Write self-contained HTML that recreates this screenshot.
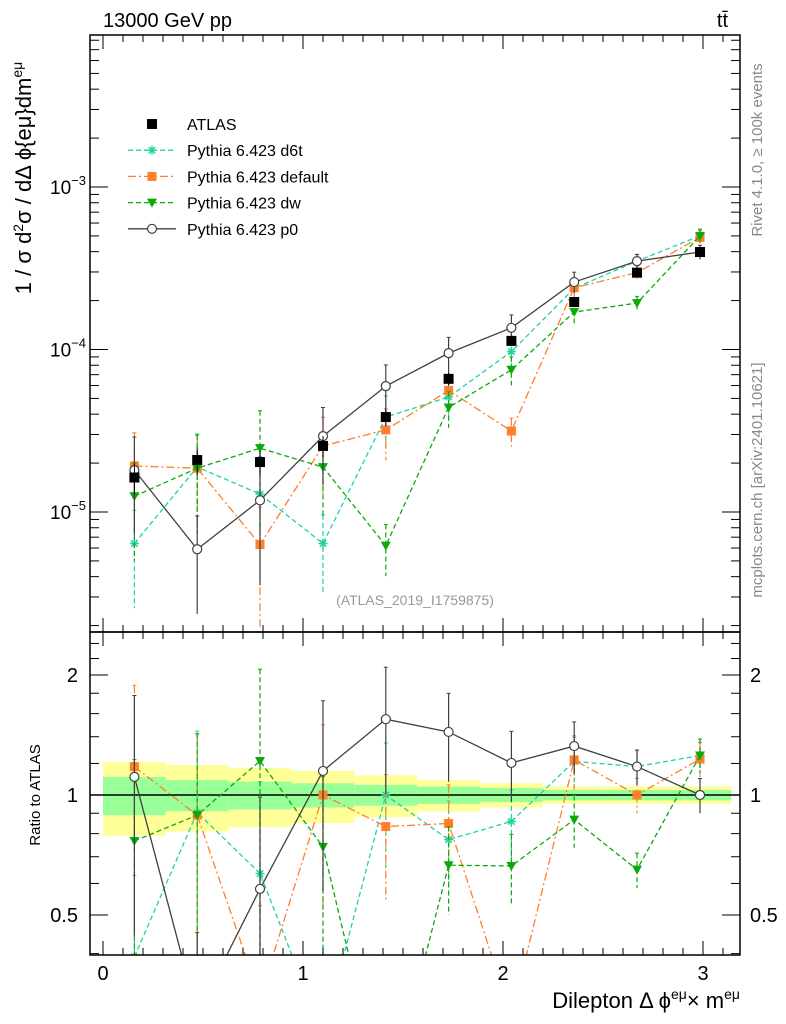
<!DOCTYPE html>
<html><head><meta charset="utf-8"><style>
html,body{margin:0;padding:0;background:#fff;overflow:hidden;width:786px;height:1024px}
svg{display:block}
svg text{font-family:"Liberation Sans","DejaVu Sans",sans-serif}
</style></head><body>
<svg id="c" width="786" height="1024" xmlns="http://www.w3.org/2000/svg"></svg>
<script>
const xs=[0.157,0.471,0.785,1.100,1.414,1.728,2.042,2.356,2.670,2.985];
const atlas=[1.63e-5,2.09e-5,2.03e-5,2.55e-5,3.84e-5,6.6e-5,1.13e-4,1.96e-4,2.97e-4,3.98e-4];
const d6t=[6.4e-6,1.89e-5,1.29e-5,6.4e-6,3.84e-5,5.1e-5,9.7e-5,2.38e-4,3.5e-4,5.0e-4];
const dflt=[1.92e-5,1.86e-5,6.3e-6,2.55e-5,3.2e-5,5.6e-5,3.15e-5,2.4e-4,2.97e-4,4.9e-4];
const dw=[1.25e-5,1.86e-5,2.47e-5,1.89e-5,6.2e-6,4.4e-5,7.5e-5,1.7e-4,1.93e-4,5.0e-4];
const p0=[1.81e-5,5.9e-6,1.18e-5,2.93e-5,5.95e-5,9.5e-5,1.36e-4,2.6e-4,3.5e-4,3.98e-4];
const mcErr=[0.6,0.6,0.7,0.5,0.35,0.25,0.2,0.15,0.1,0.1];
const yellowErr=[0.21,0.19,0.17,0.15,0.12,0.09,0.07,0.05,0.05,0.05];
const greenErr=[0.11,0.09,0.08,0.07,0.06,0.05,0.04,0.03,0.03,0.03];
const xTicks=[0,1,2,3];
const mainTicks=[-5,-4,-3];
const ratioTicks=[0.5,1,2];

const svg=document.getElementById('c');
const NS='http://www.w3.org/2000/svg';
const L=90,R=740,T=35,MB=632,RB=955;
const X=v=>103+v*200;
const Y=v=>512-(Math.log10(v)+5)*162.5;
const YR=v=>795-Math.log2(v)*120;
function el(tag,a,parent){const e=document.createElementNS(NS,tag);for(const k in a)e.setAttribute(k,a[k]);(parent||svg).appendChild(e);return e;}

const defs=el('defs',{});
const c1=el('clipPath',{id:'cm'},defs);el('rect',{x:L,y:T,width:R-L,height:MB-T},c1);
const c2=el('clipPath',{id:'cr'},defs);el('rect',{x:L,y:MB,width:R-L,height:RB-MB},c2);
const gm=el('g',{'clip-path':'url(#cm)'});


const gr=el('g',{'clip-path':'url(#cr)'});



const bw=Math.PI/10;
for(let i=0;i<xs.length;i++){
  const x0=X(i*bw),x1=X((i+1)*bw);
  const y=el('rect',{x:x0,y:YR(1+yellowErr[i]),width:x1-x0,height:YR(1-yellowErr[i])-YR(1+yellowErr[i]),fill:'#ffff99'},gr);
  
  
  const g=el('rect',{x:x0,y:YR(1+greenErr[i]),width:x1-x0,height:YR(1-greenErr[i])-YR(1+greenErr[i]),fill:'#99ff99'},gr);
  
  
}
el('line',{x1:L,x2:R,y1:YR(1),y2:YR(1),stroke:'#000','stroke-width':1.5},gr);

function marker(g,type,x,y,col){
  if(type==='sq')el('rect',{x:x-5,y:y-5,width:10,height:10,fill:col},g);
  else if(type==='osq')el('rect',{x:x-4.5,y:y-4.5,width:9,height:9,fill:col},g);
  else if(type==='tri')el('path',{d:`M${x-5},${y-4}L${x+5},${y-4}L${x},${y+5}Z`,fill:col},g);
  else if(type==='circ')el('circle',{cx:x,cy:y,r:4.5,fill:'#fff',stroke:col,'stroke-width':1.2},g);
  else if(type==='star'){for(let a=0;a<4;a++){const t=a*Math.PI/4;el('line',{x1:x-4.5*Math.cos(t),y1:y-4.5*Math.sin(t),x2:x+4.5*Math.cos(t),y2:y+4.5*Math.sin(t),stroke:col,'stroke-width':1.5},g);}}
}
const series=[
 {name:'d6t',vals:d6t,col:'#1fd3a0',dash:'5,3',m:'star'},
 {name:'default',vals:dflt,col:'#ff7f2a',dash:'8,3,2,3',m:'osq'},
 {name:'dw',vals:dw,col:'#0aaa0a',dash:'5,3',m:'tri'},
 {name:'p0',vals:p0,col:'#404040',dash:'',m:'circ'}
];
series.forEach(s=>{
  [[gm,Y,s.vals],[gr,YR,s.vals.map((v,i)=>v/atlas[i])]].forEach(([par,fy,vals],k)=>{
    const g=el('g',{},par);
    
    
    vals.forEach((v,i)=>{
      const lo=Math.max(v*(1-mcErr[i]),1e-9);
      el('line',{x1:X(xs[i]),x2:X(xs[i]),y1:fy(v*(1+mcErr[i])),y2:fy(lo),stroke:s.col,'stroke-width':1.2,'stroke-dasharray':s.dash},g);
      el('line',{x1:X(xs[i])-2,x2:X(xs[i])+2,y1:fy(v*(1+mcErr[i])),y2:fy(v*(1+mcErr[i])),stroke:s.col},g);
    });
    el('polyline',{points:vals.map((v,i)=>X(xs[i])+','+fy(v)).join(' '),fill:'none',stroke:s.col,'stroke-width':1.3,'stroke-dasharray':s.dash},g);
    vals.forEach((v,i)=>marker(g,s.m,X(xs[i]),fy(v),s.col));
  });
});
const ga=el('g',{},gm);


atlas.forEach((v,i)=>{
  el('line',{x1:X(xs[i]),x2:X(xs[i]),y1:Y(v*(1+yellowErr[i])),y2:Y(v*(1-yellowErr[i])),stroke:'#000'},ga);
  marker(ga,'sq',X(xs[i]),Y(v),'#000');
});

el('rect',{x:L,y:T,width:R-L,height:MB-T,fill:'none',stroke:'#000','stroke-width':1.5});
el('rect',{x:L,y:MB,width:R-L,height:RB-MB,fill:'none',stroke:'#000','stroke-width':1.5});

for(let v=0;v<=3.2;v+=0.1){
  const big=Math.abs(v-Math.round(v))<1e-6, x=X(v);
  if(x>R)break;
  const h=big?14:7;
  [T,MB].forEach(y=>el('line',{x1:x,x2:x,y1:y,y2:y+h,stroke:'#000'}));
  [MB,RB].forEach(y=>el('line',{x1:x,x2:x,y1:y,y2:y-h,stroke:'#000'}));
}
xTicks.forEach(v=>{const t=el('text',{x:X(v),y:980,'font-size':20,'text-anchor':'middle'});t.textContent=v;
 });

for(let d=-6;d<=-2;d++)for(let m=1;m<10;m++){
  const v=m*Math.pow(10,d),y=Y(v);if(y<T||y>MB)continue;
  const h=m===1?18:9;
  el('line',{x1:L,x2:L+h,y1:y,y2:y,stroke:'#000'});el('line',{x1:R,x2:R-h,y1:y,y2:y,stroke:'#000'});
}
mainTicks.forEach(d=>{const t=el('text',{x:86,y:Y(Math.pow(10,d))+7,'font-size':19,'text-anchor':'end'});
 t.innerHTML='10<tspan dy="-9" font-size="13">'+(d<0?'−':'')+Math.abs(d)+'</tspan>';
 });
[0.4,0.5,0.6,0.7,0.8,0.9,1,1.2,1.4,1.6,1.8,2,2.2,2.4].forEach(v=>{
  const y=YR(v);if(y<MB||y>RB)return;const big=ratioTicks.includes(v),h=big?18:9;
  el('line',{x1:L,x2:L+h,y1:y,y2:y,stroke:'#000'});el('line',{x1:R,x2:R-h,y1:y,y2:y,stroke:'#000'});
});
ratioTicks.forEach(v=>{[[78,'end'],[750,'start']].forEach(([x,a])=>{const t=el('text',{x:x,y:YR(v)+7,'font-size':20,'text-anchor':a});t.textContent=v;
 });});

const leg=[['ATLAS','#000','','sq'],...series.map(s=>['Pythia 6.423 '+s.name,s.col,s.dash,s.m])];
leg.forEach((e,i)=>{
  const y=124+i*26.2;const g=el('g',{});
  
  if(i>0)el('line',{x1:128,x2:176,y1:y,y2:y,stroke:e[1],'stroke-width':1.3,'stroke-dasharray':e[2]},g);
  marker(g,e[3],152,y,e[1]);
  const t=el('text',{x:187,y:y+6,'font-size':16},g);t.textContent=e[0];
});
function txt(s,a,name){const t=el('text',a);t.innerHTML=s;return t;}
txt('13000 GeV pp',{x:103,y:27,'font-size':20},'title-energy');
txt('t<tspan>t̄</tspan>',{x:728,y:27,'font-size':20,'text-anchor':'end'},'title-process');
txt('(ATLAS_2019_I1759875)',{x:415,y:605,'font-size':14,fill:'#999','text-anchor':'middle'},'analysis-id');
txt('1 / σ  d<tspan dy="-8" font-size="14">2</tspan><tspan dy="8">σ / dΔ ϕ{eμ}dm</tspan><tspan dy="-9" font-size="14">eμ</tspan>',{transform:'translate(31,178) rotate(-90)','font-size':22,'text-anchor':'middle'},'y-axis-title');
txt('Ratio to ATLAS',{transform:'translate(40,795) rotate(-90)','font-size':15,'text-anchor':'middle'},'ratio-axis-title');
txt('Dilepton Δ ϕ<tspan dy="-9" font-size="14">eμ</tspan><tspan dy="9">× m</tspan><tspan dy="-9" font-size="14">eμ</tspan>',{x:740,y:1008,'font-size':22,'text-anchor':'end'},'x-axis-title');
txt('Rivet 4.1.0, ≥ 100k events',{transform:'translate(762,150) rotate(-90)','font-size':15,fill:'#888','text-anchor':'middle'},'rivet-label');
txt('mcplots.cern.ch [arXiv:2401.10621]',{transform:'translate(762,480) rotate(-90)','font-size':15,fill:'#888','text-anchor':'middle'},'mcplots-label');
</script>
</body></html>
